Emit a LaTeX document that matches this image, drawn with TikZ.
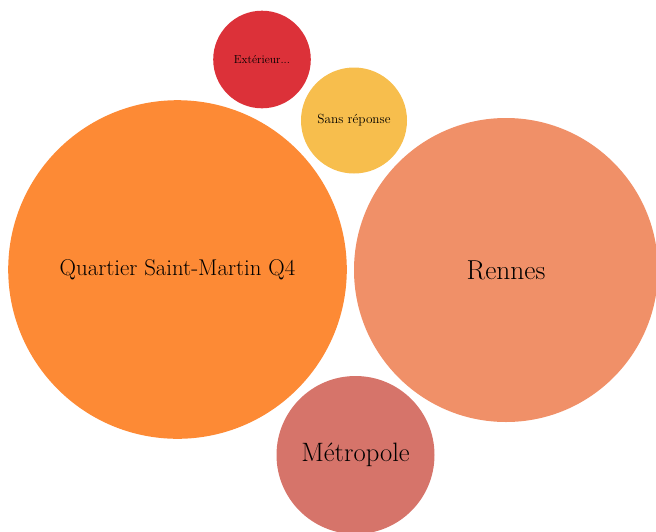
\documentclass[tikz,border=0pt]{standalone}
\usepackage{tikz}
\usetikzlibrary{calc}

\definecolor{cQuartier}{HTML}{FD8A35}
\definecolor{cRennes}{HTML}{F09068}
\definecolor{cMetro}{HTML}{D6746A}
\definecolor{cExt}{HTML}{DC3139}
\definecolor{cSans}{HTML}{F7BE4D}

\begin{document}
\begin{tikzpicture}[line cap=round,line join=round,x=1pt,y=-1pt]
\useasboundingbox (0, 0) rectangle (656, 531);
\clip (0, 0) rectangle (656, 531);

\coordinate (Q) at (177.5, 269.5);
\coordinate (R) at (506.0, 270.0);
\coordinate (M) at (355.5, 455.0);
\coordinate (E) at (262.0, 59.5);
\coordinate (S) at (354.0, 120.5);

\fill[cQuartier] (Q) circle[radius=169.3];
\fill[cRennes] (R) circle[radius=152.0];
\fill[cMetro] (M) circle[radius=79.0];
\fill[cExt] (E) circle[radius=48.8];
\fill[cSans] (S) circle[radius=53.0];

\node[text=black, font=\fontsize{22.8}{26}\selectfont] (lQ) at (Q) {Quartier Saint-Martin Q4};
\node[text=black, font=\fontsize{27.4}{30}\selectfont] (lR) at (R) {Rennes};
\node[text=black, font=\fontsize{26.6}{30}\selectfont] (lM) at (M) {Métropole};
\node[text=black, font=\fontsize{11.6}{14}\selectfont] (lE) at (E) {Extérieur...};
\node[text=black, font=\fontsize{13.2}{15}\selectfont] (lS) at (S) {Sans réponse};

\end{tikzpicture}
\end{document}
